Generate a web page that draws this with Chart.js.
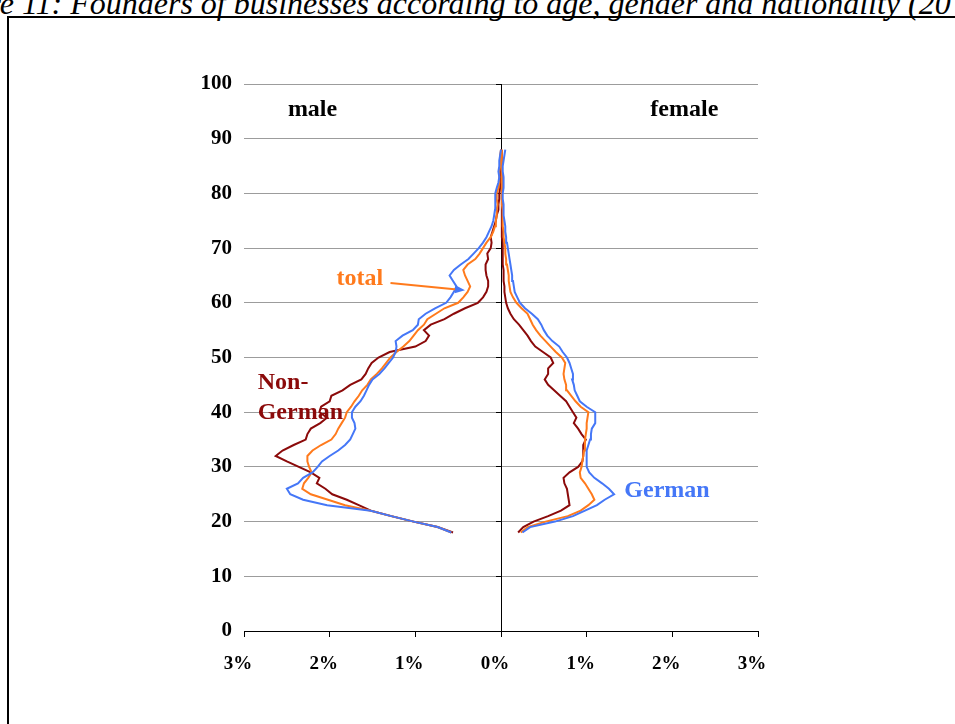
<!DOCTYPE html>
<html lang="en">
<head>
<meta charset="UTF-8">
<title>Founders of businesses according to age, gender and nationality</title>
<script src="https://cdn.jsdelivr.net/npm/chart.js"></script>
<style>
	html, body {
		margin: 0;
		padding: 0;
		background: #fff;
		overflow: hidden;
	}

	body {
		width: 955px;
		height: 724px;
		position: relative;
		font-family: "Liberation Serif", "Times New Roman", serif;
	}

	#title {
		position: absolute;
		left: -72px;
		top: -15px;
		font-style: italic;
		font-size: 32px;
		white-space: nowrap;
	}

	#frame {
		position: absolute;
		left: 7px;
		top: 16px;
		width: 1000px;
		height: 800px;
		border: 2px solid #000;
	}

	#wrap {
		position: absolute;
		left: 0;
		top: 0;
		width: 955px;
		height: 724px;
	}
</style>
</head>
<body>
<div id="title">Figure 11: Founders of businesses according to age, gender and nationality (20</div>
<div id="frame"></div>
<div id="wrap"><canvas id="pyramid" width="955" height="724"></canvas></div>

<script>
	// age of founder (years)
	const ages = [18, 19, 20, 21, 22, 23, 24, 25, 26, 27, 28, 29, 30, 31, 32, 33, 34, 35, 36, 37,
		38, 39, 40, 41, 42, 43, 44, 45, 46, 47, 48, 49, 50, 51, 52, 53, 54, 55, 56, 57,
		58, 59, 60, 61, 62, 63, 64, 65, 66, 67, 68, 69, 70, 71, 72, 73, 74, 75, 76, 77,
		78, 79, 80, 81, 82, 83, 84, 85, 86, 87, 88];

	// share of all founders in % (men are drawn to the left)
	const maleGerman = [0.58, 0.74, 1.02, 1.28, 1.52, 2.03, 2.31, 2.46, 2.50, 2.37,
		2.31, 2.20, 2.14, 2.09, 2.00, 1.90, 1.82, 1.76, 1.73, 1.70,
		1.71, 1.74, 1.74, 1.70, 1.64, 1.60, 1.57, 1.54, 1.50, 1.42,
		1.36, 1.31, 1.26, 1.23, 1.22, 1.23, 1.15, 1.03, 0.97, 0.96,
		0.88, 0.77, 0.64, 0.59, 0.55, 0.52, 0.56, 0.60, 0.55, 0.47,
		0.38, 0.32, 0.26, 0.21, 0.17, 0.14, 0.11, 0.09, 0.08, 0.07,
		0.07, 0.06, 0.07, 0.05, 0.03, 0.02, 0.03, 0.02, 0.02, 0.01, 0.00];
	const maleTotal = [0.58, 0.74, 1.02, 1.28, 1.52, 1.82, 2.02, 2.22, 2.32, 2.30,
		2.25, 2.21, 2.24, 2.26, 2.26, 2.20, 2.10, 1.98, 1.93, 1.90,
		1.86, 1.82, 1.80, 1.75, 1.71, 1.66, 1.62, 1.56, 1.52, 1.45,
		1.39, 1.34, 1.29, 1.22, 1.14, 1.07, 1.02, 0.97, 0.90, 0.86,
		0.76, 0.66, 0.50, 0.44, 0.39, 0.36, 0.39, 0.42, 0.44, 0.39,
		0.30, 0.25, 0.21, 0.17, 0.12, 0.09, 0.07, 0.06, 0.05, 0.05,
		0.04, 0.05, 0.05, 0.03, 0.02, 0.02, 0.02, 0.01, 0.01, 0.01, 0.00];
	const maleNonGerman = [0.56, 0.74, 1.02, 1.28, 1.52, 1.66, 1.80, 1.97, 2.05, 2.15,
		2.12, 2.22, 2.36, 2.50, 2.63, 2.55, 2.42, 2.28, 2.26, 2.22,
		2.11, 2.03, 2.12, 2.10, 2.00, 1.98, 1.85, 1.76, 1.63, 1.58,
		1.55, 1.51, 1.43, 1.30, 1.00, 0.88, 0.84, 0.90, 0.82, 0.66,
		0.55, 0.42, 0.27, 0.21, 0.17, 0.15, 0.15, 0.17, 0.18, 0.18,
		0.15, 0.16, 0.12, 0.11, 0.12, 0.10, 0.08, 0.06, 0.05, 0.03,
		0.03, 0.02, 0.02, 0.01, 0.01, 0.01, 0.00, 0.01, 0.01, 0.00, 0.00];

	const femaleGerman = [0.25, 0.34, 0.63, 0.84, 0.98, 1.12, 1.21, 1.32, 1.26, 1.18,
		1.09, 1.03, 1.00, 1.00, 1.00, 1.00, 1.02, 1.04, 1.05, 1.06,
		1.10, 1.10, 1.10, 1.00, 0.92, 0.89, 0.86, 0.85, 0.83, 0.84,
		0.82, 0.80, 0.77, 0.72, 0.68, 0.60, 0.54, 0.50, 0.47, 0.43,
		0.36, 0.28, 0.22, 0.19, 0.16, 0.15, 0.14, 0.13, 0.12, 0.11,
		0.10, 0.09, 0.08, 0.07, 0.06, 0.05, 0.05, 0.04, 0.03, 0.03,
		0.03, 0.02, 0.02, 0.03, 0.03, 0.03, 0.02, 0.02, 0.03, 0.04, 0.05];
	const femaleTotal = [0.23, 0.31, 0.52, 0.78, 0.93, 1.02, 1.09, 1.06, 1.02, 0.98,
		0.93, 0.92, 0.94, 0.95, 0.96, 0.97, 0.98, 0.98, 0.99, 1.00,
		1.00, 1.01, 1.02, 0.93, 0.87, 0.82, 0.77, 0.76, 0.74, 0.73,
		0.74, 0.75, 0.71, 0.64, 0.58, 0.52, 0.46, 0.41, 0.37, 0.34,
		0.31, 0.24, 0.18, 0.14, 0.11, 0.10, 0.09, 0.09, 0.08, 0.07,
		0.06, 0.05, 0.05, 0.04, 0.03, 0.03, 0.02, 0.02, 0.02, 0.02,
		0.01, 0.01, 0.01, 0.01, 0.01, 0.01, 0.01, 0.01, 0.01, 0.01, 0.01];
	const femaleNonGerman = [0.20, 0.26, 0.38, 0.55, 0.70, 0.80, 0.79, 0.78, 0.77, 0.74,
		0.73, 0.80, 0.90, 0.95, 0.96, 0.96, 0.96, 0.99, 0.94, 0.90,
		0.85, 0.88, 0.84, 0.80, 0.76, 0.69, 0.62, 0.55, 0.51, 0.55,
		0.55, 0.61, 0.58, 0.49, 0.40, 0.35, 0.31, 0.26, 0.21, 0.15,
		0.11, 0.08, 0.06, 0.05, 0.04, 0.04, 0.03, 0.03, 0.03, 0.02,
		0.02, 0.02, 0.02, 0.02, 0.01, 0.01, 0.01, 0.01, 0.01, 0.01,
		0.01, 0.01, 0.01, 0.01, 0.01, 0.01, 0.01, 0.01, 0.01, 0.01, 0.01];

	const ageTicks = [0, 10, 20, 30, 40, 50, 60, 70, 80, 90, 100];
	const shareTicks = [-3, -2, -1, 0, 1, 2, 3];

	const BLUE = '#4577f7';
	const ORANGE = '#ff7a1c';
	const DARKRED = '#8b0a0a';
	const SERIF = '"Liberation Serif", "Times New Roman", serif';

	function toPoints(shares, side) {
		return ages.map((age, i) => ({ x: side * shares[i], y: age }));
	}

	function line(label, shares, side, color) {
		return {
			label: label,
			data: toPoints(shares, side),
			showLine: true,
			borderColor: color,
			backgroundColor: color,
			borderWidth: 2,
			pointRadius: 0,
			tension: 0,
			fill: false
		};
	}

	// text labels inside the plot, placed in data coordinates
	const labelPlugin = {
		id: 'labels',
		afterDatasetsDraw(chart) {
			const ctx = chart.ctx;
			const sx = chart.scales.x, sy = chart.scales.y;
			const put = (txt, x, y, color, align) => {
				ctx.fillStyle = color;
				ctx.textAlign = align;
				ctx.textBaseline = 'middle';
				ctx.fillText(txt, sx.getPixelForValue(x), sy.getPixelForValue(y));
			};
			ctx.save();
			ctx.font = 'bold 24px ' + SERIF;
			put('male', -2.2, 95.2, '#000', 'center');
			put('female', 2.14, 95.2, '#000', 'center');
			put('total', -1.92, 64.4, ORANGE, 'left');
			put('Non-', -2.84, 45.3, DARKRED, 'left');
			put('German', -2.84, 39.9, DARKRED, 'left');
			put('German', 1.44, 25.6, BLUE, 'left');

			// arrow from "total" to the line
			const x1 = sx.getPixelForValue(-1.29), y1 = sy.getPixelForValue(63.6);
			const x2 = sx.getPixelForValue(-0.42), y2 = sy.getPixelForValue(62.3);
			const ang = Math.atan2(y2 - y1, x2 - x1);
			ctx.strokeStyle = ORANGE;
			ctx.lineWidth = 2;
			ctx.beginPath();
			ctx.moveTo(x1, y1);
			ctx.lineTo(x2 - 8 * Math.cos(ang), y2 - 8 * Math.sin(ang));
			ctx.stroke();
			ctx.beginPath();
			ctx.moveTo(x2, y2);
			ctx.lineTo(x2 - 10 * Math.cos(ang) + 4 * Math.sin(ang), y2 - 10 * Math.sin(ang) - 4 * Math.cos(ang));
			ctx.lineTo(x2 - 10 * Math.cos(ang) - 4 * Math.sin(ang), y2 - 10 * Math.sin(ang) + 4 * Math.cos(ang));
			ctx.closePath();
			ctx.fill();
			ctx.restore();
		}
	};

	new Chart(document.getElementById('pyramid'), {
		type: 'scatter',
		data: {
			datasets: [
				line('German male', maleGerman, -1, BLUE),
				line('German female', femaleGerman, 1, BLUE),
				line('total male', maleTotal, -1, ORANGE),
				line('total female', femaleTotal, 1, ORANGE),
				line('Non-German male', maleNonGerman, -1, DARKRED),
				line('Non-German female', femaleNonGerman, 1, DARKRED)
			]
		},
		options: {
			responsive: false,
			animation: false,
			layout: { padding: { left: 0, top: 84, right: 197, bottom: 0 } },
			plugins: {
				legend: { display: false },
				tooltip: { enabled: false }
			},
			scales: {
				x: {
					type: 'linear',
					min: -3,
					max: 3,
					afterBuildTicks: s => { s.ticks = shareTicks.map(v => ({ value: v })); },
					afterFit: s => { s.height = 93; },
					ticks: {
						callback: v => Math.abs(v) + '%',
						color: '#000',
						font: { family: SERIF, size: 19, weight: 'bold' },
						padding: 16,
						labelOffset: -6,
						maxRotation: 0
					},
					grid: { drawOnChartArea: false, drawTicks: true, tickLength: 6, color: '#000' },
					border: { display: true, color: '#000', width: 1 }
				},
				y: {
					type: 'linear',
					position: 'left',
					min: 0,
					max: 100,
					afterBuildTicks: s => { s.ticks = ageTicks.map(v => ({ value: v })); },
					afterFit: s => { s.width = 244; },
					ticks: {
						color: '#000',
						font: { family: SERIF, size: 21, weight: 'bold' },
						padding: 12
					},
					grid: { color: '#9c9c9c', lineWidth: 1, drawTicks: false },
					border: { display: false }
				},
				mid: {
					type: 'linear',
					axis: 'y',
					position: { x: 0 },
					min: 0,
					max: 100,
					afterBuildTicks: s => { s.ticks = ageTicks.map(v => ({ value: v })); },
					ticks: { display: false },
					grid: { drawOnChartArea: false, drawTicks: true, tickLength: 5, color: '#000' },
					border: { display: true, color: '#000', width: 1 }
				}
			}
		},
		plugins: [labelPlugin]
	});
</script>
</body>
</html>
